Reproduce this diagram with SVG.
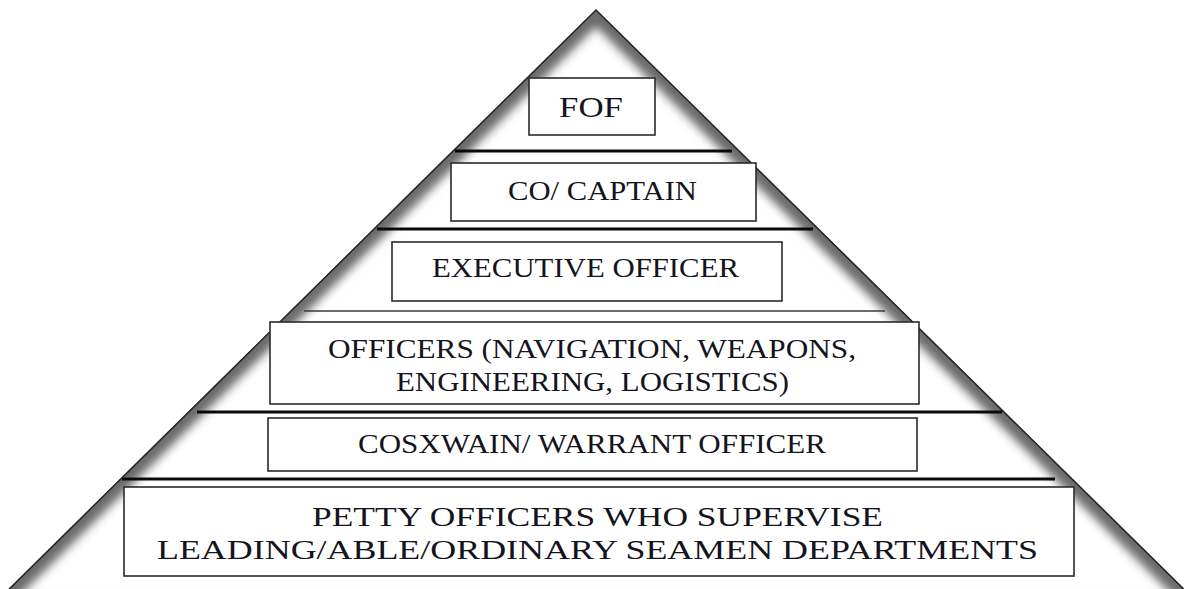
<svg xmlns="http://www.w3.org/2000/svg" width="1184" height="589" viewBox="0 0 1184 589">
  <style>
    .box { fill: #ffffff; stroke: #2a2a2a; stroke-width: 1.6; }
    .sep { stroke: #0a0a0a; stroke-width: 3; }
    .sep-thin { stroke: #3a3a3a; stroke-width: 1.5; }
    text { font-family: "Liberation Serif", "Times New Roman", Times, "DejaVu Serif", serif; font-size: 26.5px; fill: #141420; text-anchor: middle; }
  </style>
  <defs>
    <clipPath id="triClip">
      <polygon points="596,10 1205,610 -12,610"/>
    </clipPath>
    <filter id="soft" filterUnits="userSpaceOnUse" x="-50" y="-50" width="1300" height="700">
      <feGaussianBlur stdDeviation="5"/>
    </filter>
  </defs>
  <rect width="1184" height="589" fill="#ffffff"/>
  <g id="pyramid">
    <polygon points="596,10 1205,610 -12,610" fill="#ffffff"/>
    <g clip-path="url(#triClip)">
      <polygon points="596,10 1205,610 -12,610" fill="none" stroke="#6a6a6a" stroke-width="24" filter="url(#soft)"/>
    </g>
    <polygon points="596,10 1205,610 -12,610" fill="none" stroke="#262626" stroke-width="1.6"/>
  </g>
  <g id="connectors">
    <line class="sep" x1="455" y1="151" x2="732" y2="151"/>
    <line class="sep" x1="377" y1="229" x2="813" y2="229"/>
    <line class="sep-thin" x1="304" y1="311" x2="885" y2="311"/>
    <line class="sep" x1="197" y1="412" x2="1002" y2="412"/>
    <line class="sep" x1="122" y1="479" x2="1055" y2="479"/>
  </g>
  <g id="fof">
    <rect class="box" x="529" y="78" width="126" height="57"/>
    <text x="591" y="117" style="font-size:29px" textLength="64" lengthAdjust="spacingAndGlyphs">FOF</text>
  </g>
  <g id="captain">
    <rect class="box" x="451" y="163" width="305" height="58"/>
    <text x="602.5" y="200" textLength="189" lengthAdjust="spacingAndGlyphs">CO/ CAPTAIN</text>
  </g>
  <g id="executive">
    <rect class="box" x="392" y="242" width="390" height="59"/>
    <text x="585.5" y="277" textLength="307" lengthAdjust="spacingAndGlyphs">EXECUTIVE OFFICER</text>
  </g>
  <g id="officers">
    <rect class="box" x="270" y="322" width="649" height="82"/>
    <text x="592" y="358" textLength="528" lengthAdjust="spacingAndGlyphs">OFFICERS (NAVIGATION, WEAPONS,</text>
    <text x="592.5" y="391" textLength="393" lengthAdjust="spacingAndGlyphs">ENGINEERING, LOGISTICS)</text>
  </g>
  <g id="coxswain">
    <rect class="box" x="268" y="418" width="649" height="53"/>
    <text x="592" y="453" textLength="468" lengthAdjust="spacingAndGlyphs">COSXWAIN/ WARRANT OFFICER</text>
  </g>
  <g id="petty">
    <rect class="box" x="124" y="487" width="950" height="89"/>
    <text x="597.5" y="526" textLength="571" lengthAdjust="spacingAndGlyphs">PETTY OFFICERS WHO SUPERVISE</text>
    <text x="597.5" y="559" textLength="881" lengthAdjust="spacingAndGlyphs">LEADING/ABLE/ORDINARY SEAMEN DEPARTMENTS</text>
  </g>
</svg>
